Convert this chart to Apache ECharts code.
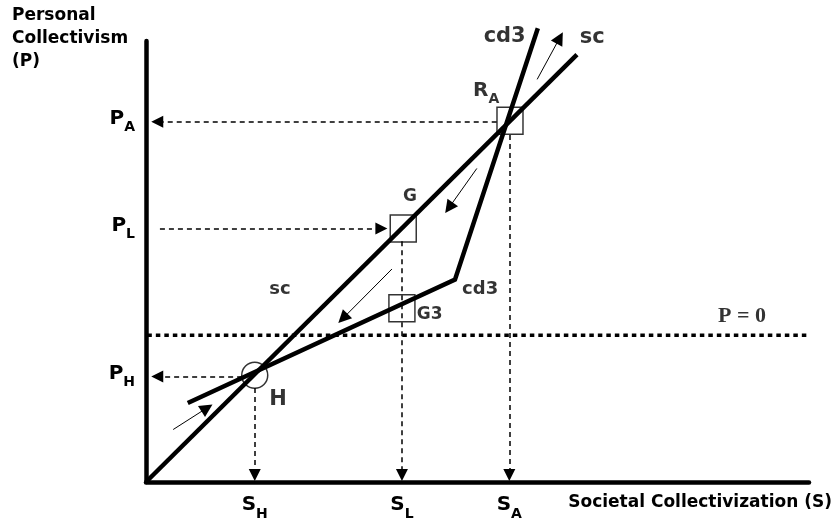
<!DOCTYPE html>
<html><head><meta charset="utf-8">
<script src="https://cdn.jsdelivr.net/npm/echarts@6/dist/echarts.min.js"></script>
<style>html,body{margin:0;padding:0;background:#fff}#c{width:836px;height:524px}</style>
</head><body><div id="c"></div>
<script>
// ---- data (diagram units: S and P from 0 to 100) ----
const sTickValues = [16.4, 38.6, 54.8];          // S_H, S_L, S_A
const sTickSubs = ['H', 'L', 'A'];
const pTickValues = [23.9, 57.5, 81.7];          // P_H, P_L, P_A
const pTickSubs = ['H', 'L', 'A'];
const scPoints = [[0, 0], [65.0, 96.9]];
const cd3Points = [[6.3, 17.9], [46.6, 45.9], [59.1, 102.9]];
const pZeroLevel = 33.3;
const pZeroSpan = [0.2, 99.7];
const boxPoints = [[54.9, 81.9], [38.8, 57.5], [38.6, 39.4]];   // R_A, G, G3
const circlePoints = [[16.4, 24.2]];                             // H
const dashedArrows = [
  [[52.9, 81.7], [1.7, 81.7]],
  [[2.1, 57.5], [35.5, 57.5]],
  [[14.5, 23.9], [1.7, 23.9]],
  [[16.4, 21.3], [16.4, 1.6]],
  [[38.6, 54.6], [38.6, 1.6]],
  [[54.8, 78.7], [54.8, 1.6]]
];
const flowArrows = [
  [[59.0, 91.3], [62.4, 100.7]],
  [[49.9, 71.1], [45.7, 62.2]],
  [[37.1, 48.3], [29.7, 37.1]],
  [[4.1, 11.9], [9.2, 16.8]]
];
const annotationTexts = ['cd3', 'sc', '{m|R}{s|A}', 'G', 'G3', 'cd3', 'sc', 'H', 'P = 0'];
const annotationPoints = [[54.1, 100.9], [67.3, 100.7], [51.3, 88.1], [39.8, 64.7], [42.8, 38.0], [50.4, 43.6], [20.2, 43.8], [19.9, 18.6], [89.9, 37.6]];
const annotationKinds = ['big', 'big', 'big', 'mid', 'mid', 'mid2', 'mid2', 'big', 'serif'];

// ---- styles ----
const SANS = 'DejaVu Sans';
const kindStyle = {
  big:   {fontFamily: SANS, fontWeight: 'bold', fontSize: 21},
  mid:   {fontFamily: SANS, fontWeight: 'bold', fontSize: 17},
  mid2:  {fontFamily: SANS, fontWeight: 'bold', fontSize: 18},
  serif: {fontFamily: 'Liberation Serif', fontWeight: 'bold', fontSize: 22}
};
const subRich = {
  m: {fontFamily: SANS, fontWeight: 'bold', fontSize: 20, lineHeight: 26, verticalAlign: 'top', color: '#000'},
  s: {fontFamily: SANS, fontWeight: 'bold', fontSize: 14, lineHeight: 14, verticalAlign: 'bottom', color: '#000'}
};
function nearestIndex(arr, v) {
  let best = 0;
  arr.forEach((a, i) => { if (Math.abs(a - v) < Math.abs(arr[best] - v)) best = i; });
  return best;
}

const chart = echarts.init(document.getElementById('c'), null, {renderer: 'canvas'});
chart.setOption({
  animation: false,
  backgroundColor: '#fff',
  title: {
    text: 'Personal\nCollectivism\n(P)',
    left: 12, top: 4, padding: 0,
    textStyle: {fontFamily: SANS, fontWeight: 'bold', fontSize: 17, lineHeight: 23, color: '#000'}
  },
  grid: {left: 146, right: 27, top: 41, bottom: 36},
  xAxis: {
    type: 'value', min: 0, max: 100,
    splitLine: {show: false}, axisTick: {show: false},
    axisLine: {lineStyle: {color: '#000', width: 4.5}},
    name: 'Societal Collectivization (S)',
    nameLocation: 'end', nameGap: 23, nameMoveOverlap: false,
    nameTextStyle: {fontFamily: SANS, fontWeight: 'bold', fontSize: 17, color: '#000', align: 'right', verticalAlign: 'top', lineHeight: 42},
    axisLabel: {
      customValues: sTickValues, margin: 13,
      formatter: v => '{m|S}{s|' + sTickSubs[nearestIndex(sTickValues, v)] + '}',
      rich: subRich
    }
  },
  yAxis: {
    type: 'value', min: 0, max: 100,
    splitLine: {show: false}, axisTick: {show: false},
    axisLine: {lineStyle: {color: '#000', width: 4.5}},
    axisLabel: {
      customValues: pTickValues, margin: 11,
      formatter: v => '{m|P}{s|' + pTickSubs[nearestIndex(pTickValues, v)] + '}',
      rich: subRich
    }
  },
  series: [
    {
      type: 'line', data: [[pZeroSpan[0], pZeroLevel], [pZeroSpan[1], pZeroLevel]],
      showSymbol: false, clip: false, silent: true,
      lineStyle: {color: '#000', width: 3.5, type: [4.5, 4]}
    },
    {
      type: 'lines', coordinateSystem: 'cartesian2d', clip: false, silent: true,
      data: dashedArrows.map(c => ({coords: c})),
      symbol: ['none', 'triangle'], symbolSize: 12,
      lineStyle: {color: '#000', width: 1.5, type: [5, 4], opacity: 1}
    },
    {
      type: 'lines', coordinateSystem: 'cartesian2d', clip: false, silent: true,
      data: flowArrows.map(c => ({coords: c})),
      symbol: ['none', 'triangle'], symbolSize: 13,
      lineStyle: {color: '#000', width: 1, opacity: 1}
    },
    {
      type: 'line', data: scPoints, showSymbol: false, clip: false, silent: true,
      lineStyle: {color: '#000', width: 4.5}
    },
    {
      type: 'line', data: cd3Points, showSymbol: false, clip: false, silent: true,
      lineStyle: {color: '#000', width: 4.5, join: 'miter'}
    },
    {
      type: 'scatter', data: boxPoints, symbol: 'rect', symbolSize: [26, 27], clip: false, silent: true,
      itemStyle: {color: 'rgba(0,0,0,0)', borderColor: '#000', borderWidth: 1.5}
    },
    {
      type: 'scatter', data: circlePoints, symbol: 'circle', symbolSize: 26, clip: false, silent: true,
      itemStyle: {color: 'rgba(0,0,0,0)', borderColor: '#000', borderWidth: 1.5}
    },
    {
      type: 'scatter', symbolSize: 0, clip: false, silent: true,
      data: annotationPoints.map((pt, i) => ({
        value: pt,
        label: Object.assign({show: true, position: 'inside', color: '#000', formatter: annotationTexts[i], rich: subRich}, kindStyle[annotationKinds[i]])
      }))
    }
  ]
});
</script>
</body></html>
